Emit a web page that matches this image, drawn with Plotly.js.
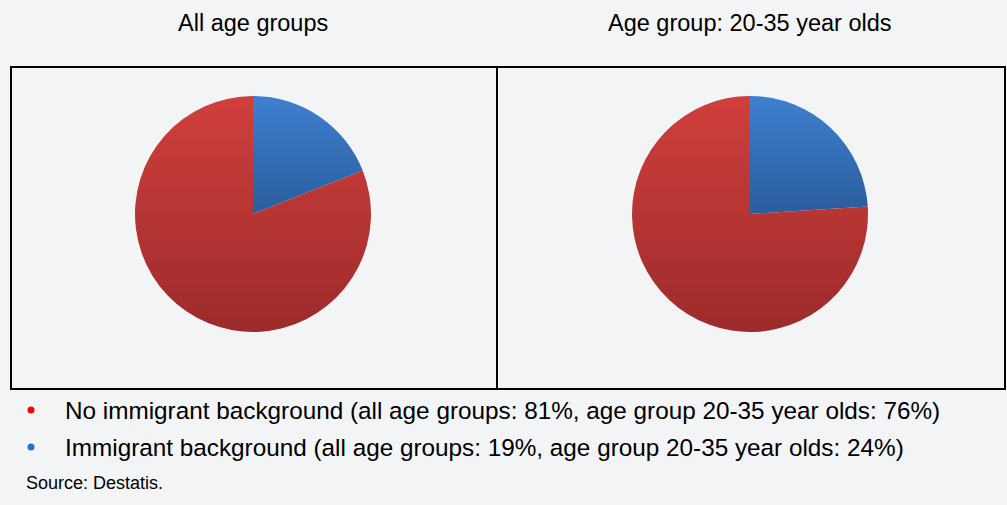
<!DOCTYPE html>
<html>
<head>
<meta charset="utf-8">
<script src="https://cdn.plot.ly/plotly-3.0.1.min.js"></script>
<style>html,body{margin:0;padding:0;background:#f3f4f6;}#chart{width:1007px;height:505px;}</style>
</head>
<body>
<div id="chart"></div>
<script>
var categories = ["Immigrant background", "No immigrant background"];
var allAgeValues = [19, 81];
var youngValues = [24, 76];
var chartTitles = ["All age groups", "Age group: 20-35 year olds"];
var legendLines = [
  "No immigrant background (all age groups: 81%, age group 20-35 year olds: 76%)",
  "Immigrant background (all age groups: 19%, age group 20-35 year olds: 24%)"
];
var sourceText = "Source: Destatis.";

var W = 1007, H = 505;
function px(x){return x/W;}
function py(y){return 1 - y/H;}
var sliceColors = ["#3468b0", "#b83634"];
var gradStops = [["#3e80d0", "#2b5c9c"], ["#d03f3c", "#9c2b2b"]];
var FONT = "Liberation Sans, Arial, sans-serif";

function pieTrace(values, cx){
  return {
    type: "pie",
    labels: categories,
    values: values,
    sort: false,
    direction: "clockwise",
    rotation: 0,
    textinfo: "none",
    hoverinfo: "label+percent",
    marker: {colors: sliceColors, line: {width: 0}},
    domain: {x: [px(cx-118), px(cx+118)], y: [py(332), py(96)]},
    showlegend: false
  };
}

var data = [pieTrace(allAgeValues, 253), pieTrace(youngValues, 750)];

var layout = {
  width: W, height: H,
  margin: {l:0, r:0, t:0, b:0},
  paper_bgcolor: "#f3f4f6",
  plot_bgcolor: "#f3f4f6",
  showlegend: false,
  shapes: [
    {type:"rect", xref:"paper", yref:"paper", x0:px(11), x1:px(497), y0:py(389), y1:py(67), line:{color:"#000", width:2}},
    {type:"rect", xref:"paper", yref:"paper", x0:px(497), x1:px(1005), y0:py(389), y1:py(67), line:{color:"#000", width:2}},
    {type:"circle", xref:"paper", yref:"paper", x0:px(27.5), x1:px(34.5), y0:py(413.5), y1:py(406.5), fillcolor:"#ff0000", line:{width:0}},
    {type:"circle", xref:"paper", yref:"paper", x0:px(27.5), x1:px(34.5), y0:py(450.5), y1:py(443.5), fillcolor:"#1f72d0", line:{width:0}}
  ],
  annotations: [
    {text: chartTitles[0], x:px(253), y:py(23), xref:"paper", yref:"paper", showarrow:false, xanchor:"center", yanchor:"middle", font:{family:FONT, size:23.5, color:"#000"}},
    {text: chartTitles[1], x:px(750), y:py(23), xref:"paper", yref:"paper", showarrow:false, xanchor:"center", yanchor:"middle", font:{family:FONT, size:23.5, color:"#000"}},
    {text: legendLines[0], x:px(63), y:py(410), xref:"paper", yref:"paper", showarrow:false, xanchor:"left", yanchor:"middle", font:{family:FONT, size:24.3, color:"#000"}},
    {text: legendLines[1], x:px(63), y:py(447), xref:"paper", yref:"paper", showarrow:false, xanchor:"left", yanchor:"middle", font:{family:FONT, size:24.3, color:"#000"}},
    {text: sourceText, x:px(24), y:py(483), xref:"paper", yref:"paper", showarrow:false, xanchor:"left", yanchor:"middle", font:{family:FONT, size:18, color:"#000"}}
  ]
};

Plotly.newPlot("chart", data, layout, {displayModeBar:false, staticPlot:true}).then(function(gd){
  var svg = gd.querySelector("svg.main-svg");
  var ns = "http://www.w3.org/2000/svg";
  var defs = svg.querySelector("defs") || svg.insertBefore(document.createElementNS(ns, "defs"), svg.firstChild);
  gradStops.forEach(function(st, i){
    var g = document.createElementNS(ns, "linearGradient");
    g.setAttribute("id", "sliceGrad" + i);
    g.setAttribute("x1", "0"); g.setAttribute("y1", "0");
    g.setAttribute("x2", "0"); g.setAttribute("y2", "1");
    [[0, st[0]], [1, st[1]]].forEach(function(s){
      var stop = document.createElementNS(ns, "stop");
      stop.setAttribute("offset", s[0]);
      stop.setAttribute("stop-color", s[1]);
      g.appendChild(stop);
    });
    defs.appendChild(g);
  });
  gd.querySelectorAll("g.trace").forEach(function(tr){
    tr.querySelectorAll("g.slice").forEach(function(sl, j){
      var p = sl.querySelector("path.surface");
      if (p) p.style.fill = "url(#sliceGrad" + j + ")";
    });
  });
});
</script>
</body>
</html>
